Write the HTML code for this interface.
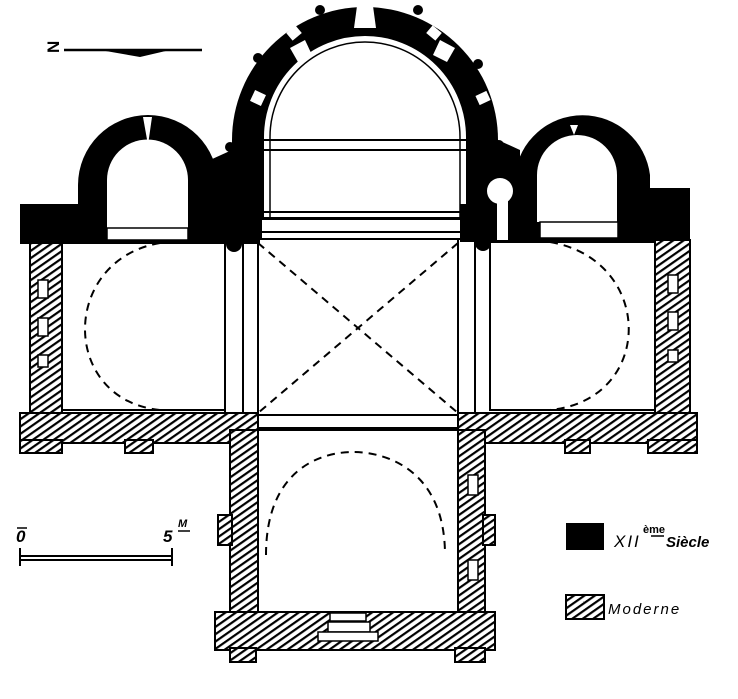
<!DOCTYPE html>
<html><head><style>html,body{margin:0;padding:0;background:#fff}svg{display:block}</style></head>
<body>
<svg width="738" height="699" viewBox="0 0 738 699" xmlns="http://www.w3.org/2000/svg">
<defs>
<pattern id="h" patternUnits="userSpaceOnUse" width="6" height="6" patternTransform="rotate(-35)">
<rect width="6" height="6" fill="#fff"/><rect width="6" height="2.2" fill="#000"/>
</pattern>
</defs>
<!-- north arrow -->
<text x="44" y="52" font-family="Liberation Sans, sans-serif" font-size="17" font-weight="bold" transform="rotate(-90 52 45)">N</text>
<line x1="64" y1="50" x2="202" y2="50" stroke="#000" stroke-width="2.5"/>
<polygon points="100,50 170,50 140,57" fill="#000"/>

<!-- big apse -->
<path d="M232,240 L232,140 A133,133 0 0 1 498,140 L498,240 Z" fill="#000"/>
<path d="M263,220 L263,137 A102,102 0 0 1 467,137 L467,220 Z" fill="#fff" stroke="#000" stroke-width="2"/>
<path d="M270,220 L270,137 A95,95 0 0 1 460,137 L460,220" fill="none" stroke="#000" stroke-width="1.5"/>
<g fill="#fff">
<polygon points="357,6 373,6 376,28 354,28"/>
<rect x="288" y="28" width="12" height="10" transform="rotate(-40 294 33)"/>
<rect x="252" y="92" width="12" height="12" transform="rotate(-65 258 98)"/>
<rect x="428" y="28" width="12" height="10" transform="rotate(40 434 33)"/>
<rect x="478" y="92" width="10" height="12" transform="rotate(65 483 98)"/>
<polygon points="290,48 305,40 312,55 298,62"/>
<polygon points="440,40 455,48 447,62 433,55"/>
</g>
<g fill="#000">
<circle cx="320" cy="10" r="5"/><circle cx="418" cy="10" r="5"/><circle cx="258" cy="58" r="5"/><circle cx="478" cy="64" r="5"/><circle cx="230" cy="147" r="5"/><circle cx="499" cy="145" r="5"/>
</g>
<g stroke="#000" stroke-width="2" fill="none">
<line x1="263" y1="140" x2="467" y2="140"/><line x1="263" y1="150" x2="467" y2="150"/>
<line x1="263" y1="212" x2="467" y2="212"/><line x1="263" y1="218" x2="467" y2="218"/>
</g>
<rect x="262" y="220" width="198" height="18" fill="#fff"/>
<line x1="258" y1="232" x2="460" y2="232" stroke="#000" stroke-width="2"/>

<!-- left black -->
<rect x="20" y="204" width="240" height="40" fill="#000"/>
<path d="M78,204 L78,185 A70,70 0 0 1 218,185 L218,204 Z" fill="#000"/>
<path d="M210,160 L232,150 L232,204 L210,204Z" fill="#000"/>
<circle cx="234" cy="244" r="8" fill="#000"/>
<path d="M107,228 L107,180 A40,40 0 0 1 188,180 L188,228 Z" fill="#fff"/>
<rect x="107" y="228" width="81" height="12" fill="#fff" stroke="#000" stroke-width="1.5"/>
<polygon points="143,117 152,117 148,145" fill="#fff"/>

<!-- right black -->
<rect x="460" y="204" width="230" height="38" fill="#000"/>
<rect x="645" y="188" width="45" height="20" fill="#000"/>
<path d="M515,204 L515,175 A68,68 0 0 1 650,175 L650,204 Z" fill="#000"/>
<path d="M498,140 L520,150 L520,204 L498,204Z" fill="#000"/>
<path d="M537,222 L537,175 A40,40 0 0 1 617,175 L617,222 Z" fill="#fff"/>
<rect x="540" y="222" width="78" height="16" fill="#fff" stroke="#000" stroke-width="1.5"/>
<polygon points="570,125 578,125 574,135" fill="#fff"/>
<circle cx="500" cy="191" r="13" fill="#fff"/>
<rect x="497" y="200" width="11" height="40" fill="#fff"/>
<circle cx="483" cy="243" r="8" fill="#000"/>

<!-- hatched walls -->
<g fill="url(#h)" stroke="#000" stroke-width="2">
<rect x="30" y="243" width="32" height="170"/>
<path d="M20,413 L258,413 L258,443 L20,443 Z"/>
<rect x="20" y="440" width="42" height="13"/>
<rect x="125" y="440" width="28" height="13"/>
<rect x="230" y="430" width="28" height="200"/>
<rect x="218" y="515" width="14" height="30"/>
<rect x="655" y="240" width="35" height="173"/>
<path d="M458,413 L697,413 L697,443 L458,443 Z"/>
<rect x="565" y="440" width="25" height="13"/>
<rect x="648" y="440" width="49" height="13"/>
<rect x="458" y="430" width="27" height="200"/>
<rect x="483" y="515" width="12" height="30"/>
<rect x="215" y="612" width="280" height="38"/>
<rect x="230" y="648" width="26" height="14"/>
<rect x="455" y="648" width="30" height="14"/>
</g>
<g fill="#fff" stroke="#000" stroke-width="1.5">
<rect x="38" y="280" width="10" height="18"/><rect x="38" y="318" width="10" height="18"/><rect x="38" y="355" width="10" height="12"/>
<rect x="668" y="275" width="10" height="18"/><rect x="668" y="312" width="10" height="18"/><rect x="668" y="350" width="10" height="12"/>
<rect x="468" y="475" width="10" height="20"/><rect x="468" y="560" width="10" height="20"/>
<rect x="330" y="613" width="36" height="8"/><rect x="328" y="622" width="42" height="10"/><rect x="318" y="632" width="60" height="9"/>
</g>

<!-- interiors -->
<g fill="none" stroke="#000" stroke-width="2">
<rect x="62" y="243" width="163" height="167"/>
<rect x="490" y="242" width="165" height="168"/>
<line x1="243" y1="243" x2="243" y2="413"/><line x1="258" y1="238" x2="258" y2="430"/>
<line x1="225" y1="243" x2="225" y2="413"/>
<line x1="475" y1="242" x2="475" y2="413"/><line x1="458" y1="238" x2="458" y2="430"/>
<line x1="258" y1="415" x2="458" y2="415"/><line x1="258" y1="428" x2="458" y2="428"/>
<rect x="258" y="430" width="200" height="182"/>
</g>
<g fill="none" stroke="#000" stroke-width="2" stroke-dasharray="8,6">
<line x1="258" y1="243" x2="458" y2="413"/><line x1="458" y1="243" x2="258" y2="413"/>
<path d="M160,243 C60,260 60,400 160,410"/>
<path d="M550,242 C655,260 655,400 550,410"/>
<path d="M266,555 C266,470 320,452 353,452 C386,452 445,470 445,555"/>
</g>

<!-- scale -->
<text x="16" y="542" font-family="Liberation Sans, sans-serif" font-style="italic" font-weight="bold" font-size="17">0</text>
<line x1="17" y1="528" x2="27" y2="528" stroke="#000" stroke-width="1.5"/>
<text x="163" y="542" font-family="Liberation Sans, sans-serif" font-style="italic" font-weight="bold" font-size="17">5</text>
<text x="178" y="527" font-family="Liberation Sans, sans-serif" font-style="italic" font-weight="bold" font-size="11">M</text>
<line x1="178" y1="531" x2="190" y2="531" stroke="#000" stroke-width="1.5"/>
<g stroke="#000" stroke-width="2"><line x1="20" y1="556" x2="172" y2="556"/><line x1="20" y1="560" x2="172" y2="560"/><line x1="20" y1="548" x2="20" y2="566"/><line x1="172" y1="548" x2="172" y2="566"/></g>

<!-- legend -->
<rect x="566" y="523" width="38" height="27" fill="#000"/>
<text x="614" y="547" font-family="Liberation Sans, sans-serif" font-style="italic" font-size="17" letter-spacing="2">XII</text>
<text x="643" y="533" font-family="Liberation Sans, sans-serif" font-weight="bold" font-size="11">ème</text>
<line x1="651" y1="536" x2="664" y2="536" stroke="#000" stroke-width="1.5"/>
<text x="666" y="547" font-family="Liberation Sans, sans-serif" font-weight="bold" font-style="italic" font-size="15">Siècle</text>
<rect x="566" y="595" width="38" height="24" fill="url(#h)" stroke="#000" stroke-width="2"/>
<text x="608" y="614" font-family="Liberation Sans, sans-serif" font-style="italic" font-size="15" letter-spacing="2">Moderne</text>
</svg>
</body></html>
